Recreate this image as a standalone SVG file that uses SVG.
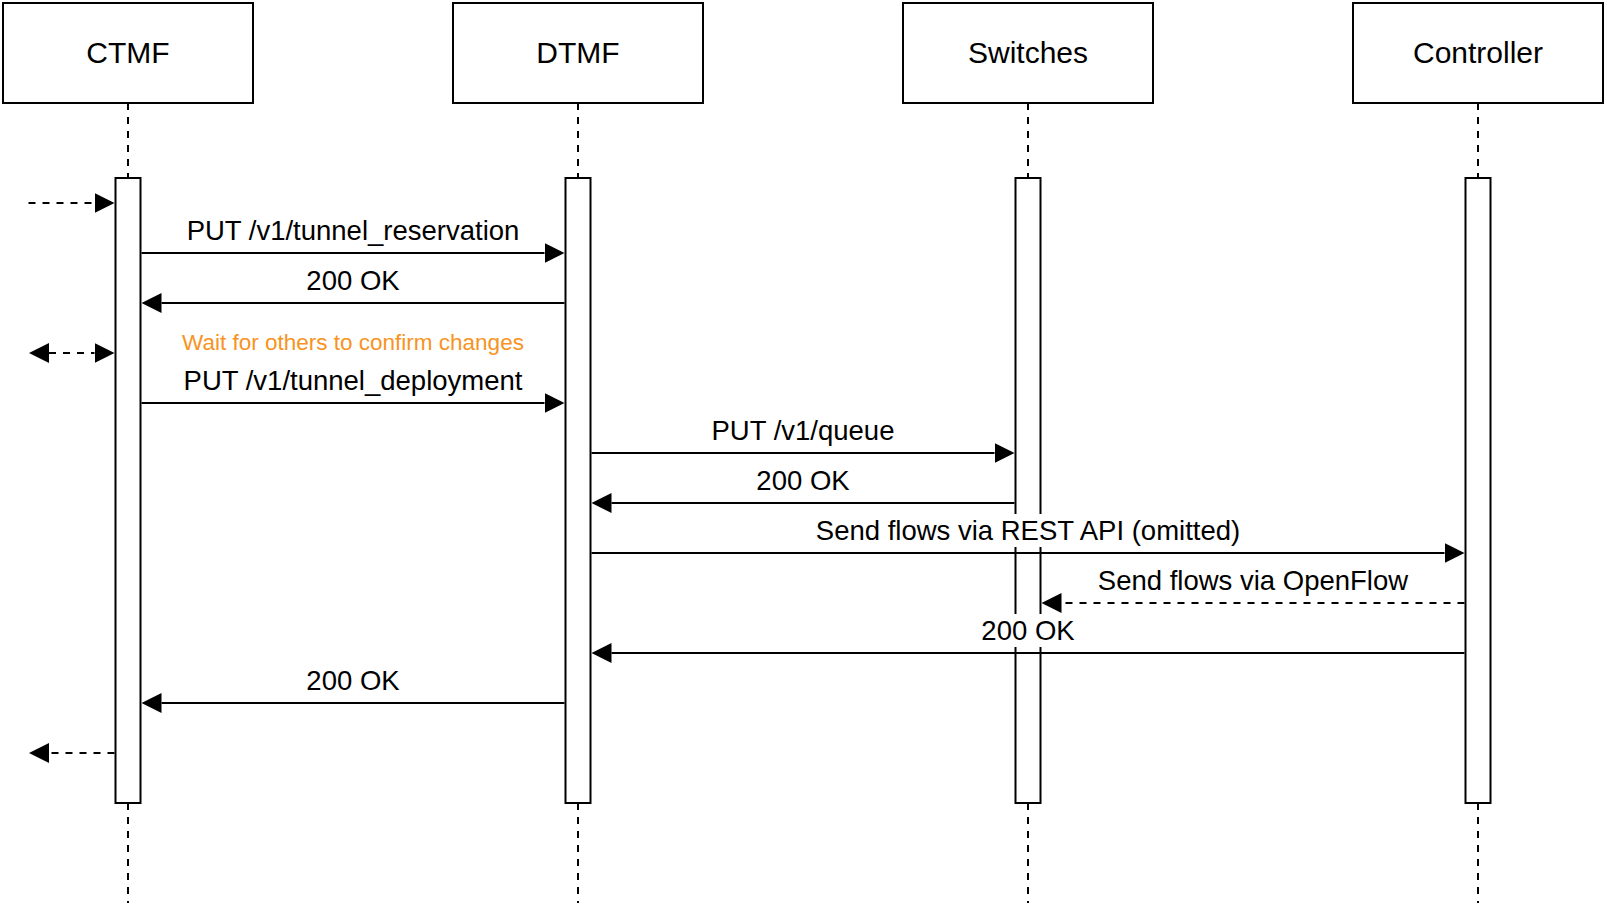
<svg xmlns="http://www.w3.org/2000/svg" width="1607" height="907" viewBox="0 0 1607 907">
  <style>
    .box { fill: #ffffff; stroke: #000000; stroke-width: 2; }
    .bar { fill: #ffffff; stroke: #000000; stroke-width: 2; }
    .life { stroke: #000000; stroke-width: 2; stroke-dasharray: 7 7; fill: none; }
    .msg { stroke: #000000; stroke-width: 2; fill: none; }
    .dash { stroke-dasharray: 7 7; }
    .title { font-family: "Liberation Sans", Arial, sans-serif; font-size: 30px; fill: #000000; text-anchor: middle; }
    .lbl { font-family: "Liberation Sans", Arial, sans-serif; font-size: 27.5px; fill: #000000; text-anchor: middle; }
    .note { font-family: "Liberation Sans", Arial, sans-serif; font-size: 22.5px; fill: #F7931E; text-anchor: middle; }
    .lblbg { fill: #ffffff; stroke: none; }
  </style>
  <defs>
    <marker id="arrow" markerUnits="userSpaceOnUse" viewBox="0 -10 20 20" refX="0" refY="0" markerWidth="20" markerHeight="20" orient="auto-start-reverse">
      <path d="M0,-10 L20,0 L0,10 Z" fill="#000000" stroke="none"/>
    </marker>
  </defs>

  <g id="ctmf">
    <line class="life" x1="128" y1="103" x2="128" y2="903"/>
    <rect class="box" x="3" y="3" width="250" height="100"/>
    <text class="title" x="128" y="63">CTMF</text>
    <rect class="bar" x="115.5" y="178" width="25" height="625"/>
  </g>
  <g id="dtmf">
    <line class="life" x1="578" y1="103" x2="578" y2="903"/>
    <rect class="box" x="453" y="3" width="250" height="100"/>
    <text class="title" x="578" y="63">DTMF</text>
    <rect class="bar" x="565.5" y="178" width="25" height="625"/>
  </g>
  <g id="switches">
    <line class="life" x1="1028" y1="103" x2="1028" y2="903"/>
    <rect class="box" x="903" y="3" width="250" height="100"/>
    <text class="title" x="1028" y="63">Switches</text>
    <rect class="bar" x="1015.5" y="178" width="25" height="625"/>
  </g>
  <g id="controller">
    <line class="life" x1="1478" y1="103" x2="1478" y2="903"/>
    <rect class="box" x="1353" y="3" width="250" height="100"/>
    <text class="title" x="1478" y="63">Controller</text>
    <rect class="bar" x="1465.5" y="178" width="25" height="625"/>
  </g>

  <g id="connectors">
    <line class="msg dash" x1="28.5" y1="203" x2="94.5" y2="203" marker-end="url(#arrow)"/>
    <line class="msg" x1="141.5" y1="253" x2="544.5" y2="253" marker-end="url(#arrow)"/>
    <line class="msg" x1="564.5" y1="303" x2="161.5" y2="303" marker-end="url(#arrow)"/>
    <line class="msg dash" x1="49" y1="353" x2="94.5" y2="353" marker-start="url(#arrow)" marker-end="url(#arrow)"/>
    <line class="msg" x1="141.5" y1="403" x2="544.5" y2="403" marker-end="url(#arrow)"/>
    <line class="msg" x1="591.5" y1="453" x2="994.5" y2="453" marker-end="url(#arrow)"/>
    <line class="msg" x1="1014.5" y1="503" x2="611.5" y2="503" marker-end="url(#arrow)"/>
    <line class="msg" x1="591.5" y1="553" x2="1444.5" y2="553" marker-end="url(#arrow)"/>
    <line class="msg dash" x1="1464.5" y1="603" x2="1061.5" y2="603" marker-end="url(#arrow)"/>
    <line class="msg" x1="1464.5" y1="653" x2="611.5" y2="653" marker-end="url(#arrow)"/>
    <line class="msg" x1="564.5" y1="703" x2="161.5" y2="703" marker-end="url(#arrow)"/>
    <line class="msg dash" x1="114.5" y1="753" x2="49" y2="753" marker-end="url(#arrow)"/>
  </g>

  <g id="labels">
    <text class="lbl" x="353" y="240">PUT /v1/tunnel_reservation</text>
    <text class="lbl" x="353" y="290">200 OK</text>
    <text class="note" x="353" y="350">Wait for others to confirm changes</text>
    <text class="lbl" x="353" y="390">PUT /v1/tunnel_deployment</text>
    <text class="lbl" x="803" y="440">PUT /v1/queue</text>
    <text class="lbl" x="803" y="490">200 OK</text>
    <rect class="lblbg" x="812" y="514" width="432" height="33"/>
    <text class="lbl" x="1028" y="540">Send flows via REST API (omitted)</text>
    <text class="lbl" x="1253" y="590">Send flows via OpenFlow</text>
    <rect class="lblbg" x="979" y="614" width="98" height="33"/>
    <text class="lbl" x="1028" y="640">200 OK</text>
    <text class="lbl" x="353" y="690">200 OK</text>
  </g>
</svg>
